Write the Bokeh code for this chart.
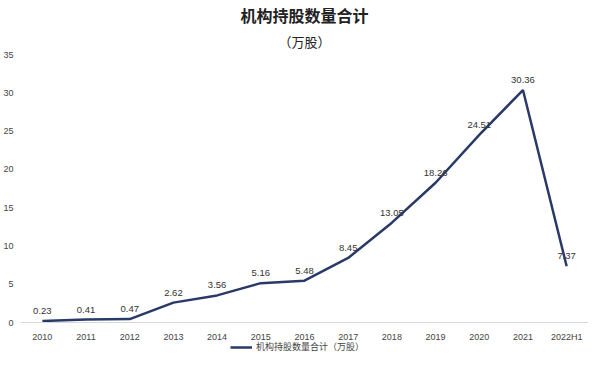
from bokeh.plotting import figure
from bokeh.models import Title, Legend, LegendItem, ColumnDataSource, FixedTicker, Range1d
from bokeh.core.properties import value
from bokeh.embed import file_html
from bokeh.resources import INLINE

years = ["2010", "2011", "2012", "2013", "2014", "2015", "2016",
         "2017", "2018", "2019", "2020", "2021", "2022H1"]
holdings = [0.23, 0.41, 0.47, 2.62, 3.56, 5.16, 5.48,
            8.45, 13.05, 18.26, 24.51, 30.36, 7.37]
labels = ["0.23", "0.41", "0.47", "2.62", "3.56", "5.16", "5.48",
          "8.45", "13.05", "18.26", "24.51", "30.36", "7.37"]
y_ticks = [0, 5, 10, 15, 20, 25, 30, 35]
series_name = "机构持股数量合计（万股）"
title_main = "机构持股数量合计"
title_sub = "（万股）"

src = ColumnDataSource(dict(x=years, y=holdings, t=labels))

LINE = "#293a68"
FONT = "Liberation Sans"
CJK = "Noto Sans CJK SC"

# frame extends below zero so the legend can sit under the axis labels
p = figure(frame_width=568, frame_height=300, x_range=years, y_range=Range1d(-4.15, 35),
           output_backend="svg", toolbar_location=None,
           min_border_left=0, min_border_right=2, min_border_top=0, min_border_bottom=0)
p.outline_line_color = None
p.background_fill_color = "white"
p.border_fill_color = "white"

p.add_layout(Title(text=title_sub, align="center", text_font=CJK,
                   text_font_size="13px", text_font_style="normal",
                   text_color="#222222", standoff=7), "above")
p.add_layout(Title(text=title_main, align="center", text_font=CJK,
                   text_font_size="16px", text_font_style="bold",
                   text_color="#222222", standoff=0), "above")

r = p.line("x", "y", source=src, line_color=LINE, line_width=2.5)
p.text("x", "y", text="t", source=src, text_font=value(FONT), text_font_size="9.5px",
       text_color="#333333", text_align="center", text_baseline="bottom", y_offset=-7)

p.xgrid.grid_line_color = None
p.ygrid.grid_line_color = None

p.yaxis.ticker = FixedTicker(ticks=y_ticks)
p.yaxis.axis_line_color = None
p.yaxis.major_tick_line_color = None
p.yaxis.minor_tick_line_color = None
p.yaxis.major_label_text_font = FONT
p.yaxis.major_label_text_font_size = "9px"
p.yaxis.major_label_text_color = "#444444"
p.yaxis.major_label_standoff = 1

p.xaxis.fixed_location = 0
p.xaxis.axis_line_color = "#d8d8d8"
p.xaxis.axis_line_width = 1
p.xaxis.major_tick_line_color = None
p.xaxis.minor_tick_line_color = None
p.xaxis.major_label_text_font = FONT
p.xaxis.major_label_text_font_size = "9px"
p.xaxis.major_label_text_color = "#444444"
p.xaxis.major_label_standoff = 3

legend = Legend(items=[LegendItem(label=series_name, renderers=[r])],
                orientation="horizontal", location=(210, 1),
                border_line_color=None, background_fill_alpha=0,
                label_text_font=CJK, label_text_font_size="9px",
                label_text_color="#444444", glyph_width=22, glyph_height=10,
                padding=3, margin=0, label_standoff=4, label_height=12)
p.add_layout(legend)

open("out.html", "w").write(file_html(p, INLINE))
